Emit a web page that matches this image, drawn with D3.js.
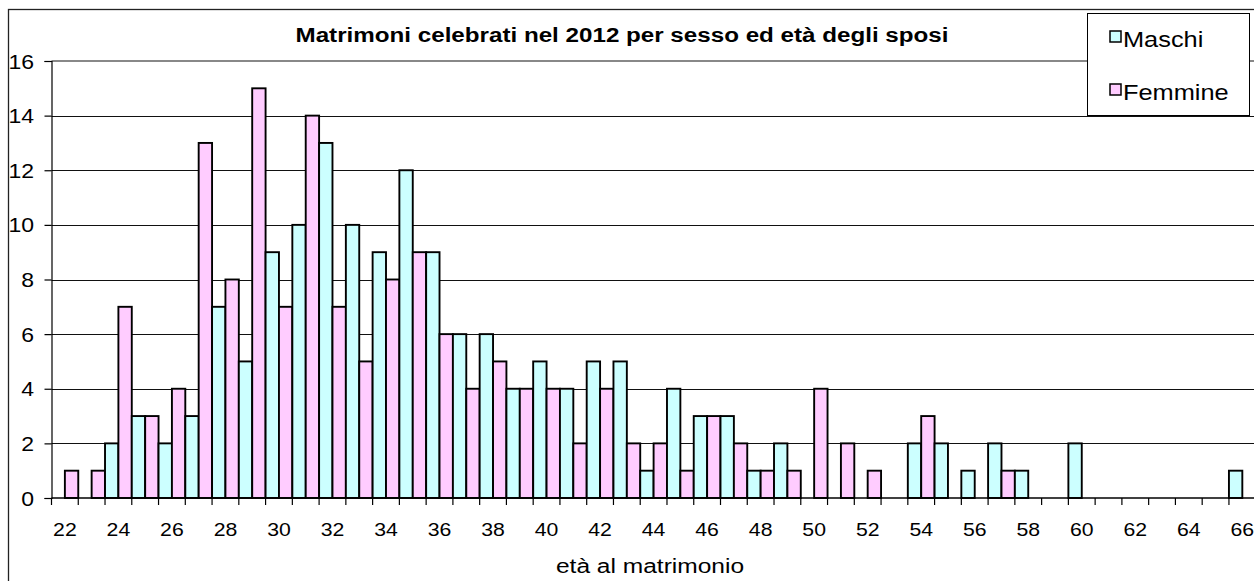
<!DOCTYPE html>
<html>
<head>
<meta charset="utf-8">
<script src="https://cdn.jsdelivr.net/npm/d3@7"></script>
<style>
    body { margin: 0; background: #fff; }
    svg { display: block; font-family: "Liberation Sans", Arial, sans-serif; }
</style>
</head>
<body>
<div id="chart"></div>
<script>
    const ages = [22, 23, 24, 25, 26, 27, 28, 29, 30, 31, 32, 33, 34, 35, 36, 37, 38, 39, 40, 41,
        42, 43, 44, 45, 46, 47, 48, 49, 50, 51, 52, 53, 54, 55, 56, 57, 58, 59, 60, 61,
        62, 63, 64, 65, 66];
    const maschi = [0, 0, 2, 3, 2, 3, 7, 5, 9, 10, 13, 10, 9, 12, 9, 6, 6, 4, 5, 4,
        5, 5, 1, 4, 3, 3, 1, 2, 0, 0, 0, 0, 2, 2, 1, 2, 1, 0, 2, 0,
        0, 0, 0, 0, 1];
    const femmine = [1, 1, 7, 3, 4, 13, 8, 15, 7, 14, 7, 5, 8, 9, 6, 4, 5, 4, 4, 2,
        4, 2, 2, 1, 3, 2, 1, 1, 4, 2, 1, 0, 3, 0, 0, 1, 0, 0, 0, 0,
        0, 0, 0, 0, 0];
    const seriesNames = ["Maschi", "Femmine"];
    const seriesColors = ["#ccffff", "#ffccff"];
    const yTicks = [0, 2, 4, 6, 8, 10, 12, 14, 16];
    const xLabels = [22, 24, 26, 28, 30, 32, 34, 36, 38, 40, 42, 44, 46, 48, 50, 52, 54, 56, 58, 60, 62, 64, 66];

    const titleText = "Matrimoni celebrati nel 2012 per sesso ed età degli sposi";
    const xTitle = "età al matrimonio";

    const W = 1254, H = 581;
    const plotLeft = 51.5, plotRight = 1255.7, plotTop = 61, plotBottom = 498;
    const sx = 1.18; // text in the picture is a bit stretched horizontally

    const svg = d3.select("#chart").append("svg")
        .attr("width", W)
        .attr("height", H);

    svg.append("rect")
        .attr("width", W).attr("height", H)
        .attr("fill", "#fff");

    // chart area border (right/bottom are off canvas)
    svg.append("rect")
        .attr("x", 8.5).attr("y", 9.5)
        .attr("width", 1300).attr("height", 650)
        .attr("fill", "none")
        .attr("stroke", "#222")
        .attr("stroke-width", 1.3);

    const x = d3.scaleBand()
        .domain(ages)
        .range([plotLeft, plotRight])
        .padding(0);

    const xInner = d3.scaleBand()
        .domain(seriesNames)
        .range([0, x.bandwidth()])
        .padding(0);

    const y = d3.scaleLinear()
        .domain([0, 16])
        .range([plotBottom, plotTop]);

    // gridlines
    svg.append("g")
        .selectAll("line")
        .data(yTicks.filter(d => d > 0 && d < 16))
        .enter()
        .append("line")
        .attr("x1", plotLeft).attr("x2", plotRight)
        .attr("y1", d => Math.round(y(d)) + 0.5)
        .attr("y2", d => Math.round(y(d)) + 0.5)
        .attr("stroke", "#111")
        .attr("stroke-width", 1);

    // plot area border top
    svg.append("line")
        .attr("x1", plotLeft).attr("x2", plotRight)
        .attr("y1", y(16)).attr("y2", y(16))
        .attr("stroke", "#888")
        .attr("stroke-width", 2);

    // bars
    const rows = ages.map((a, i) => ({age: a, values: [maschi[i], femmine[i]]}));

    const groups = svg.append("g")
        .selectAll("g")
        .data(rows)
        .enter()
        .append("g")
        .attr("transform", d => "translate(" + x(d.age) + ",0)");

    groups.selectAll("rect")
        .data(d => d.values.map((v, j) => ({name: seriesNames[j], value: v, color: seriesColors[j]})))
        .enter()
        .filter(d => d.value > 0)
        .append("rect")
        .attr("x", d => xInner(d.name))
        .attr("y", d => y(d.value))
        .attr("width", xInner.bandwidth())
        .attr("height", d => y(0) - y(d.value))
        .attr("fill", d => d.color)
        .attr("stroke", "#000")
        .attr("stroke-width", 1.9);

    // y axis
    const yAxis = svg.append("g")
        .attr("transform", "translate(" + plotLeft + ",0)")
        .call(d3.axisLeft(y).tickValues(yTicks).tickSize(7).tickFormat(d3.format("d")));
    yAxis.select(".domain").attr("stroke", "#000").attr("stroke-width", 1.2);
    yAxis.selectAll(".tick line").attr("stroke", "#000").attr("stroke-width", 1.2);
    yAxis.selectAll(".tick text").remove();
    yAxis.selectAll(".tick")
        .append("text")
        .attr("transform", "translate(-17.5,7) scale(" + sx + ",1)")
        .attr("text-anchor", "end")
        .attr("fill", "#000")
        .style("font-size", "19.5px")
        .text(d => d);

    // x axis: ticks on band edges, labels every other category
    const xAxisG = svg.append("g");
    xAxisG.append("line")
        .attr("x1", plotLeft).attr("x2", plotRight)
        .attr("y1", plotBottom).attr("y2", plotBottom)
        .attr("stroke", "#000")
        .attr("stroke-width", 1.4);
    xAxisG.selectAll(".xtick")
        .data(ages)
        .enter()
        .append("line")
        .attr("class", "xtick")
        .attr("x1", d => x(d)).attr("x2", d => x(d))
        .attr("y1", plotBottom).attr("y2", plotBottom + 7)
        .attr("stroke", "#000")
        .attr("stroke-width", 1.2);
    xAxisG.selectAll(".xlabel")
        .data(xLabels)
        .enter()
        .append("text")
        .attr("class", "xlabel")
        .attr("transform", d => "translate(" + (x(d) + x.bandwidth() / 2) + ",536) scale(" + sx + ",1)")
        .attr("text-anchor", "middle")
        .style("font-size", "18px")
        .text(d => d);

    svg.append("text")
        .attr("transform", "translate(650,573) scale(" + sx + ",1)")
        .attr("text-anchor", "middle")
        .style("font-size", "20.8px")
        .text(xTitle);

    svg.append("text")
        .attr("transform", "translate(622,42) scale(" + sx + ",1)")
        .attr("text-anchor", "middle")
        .style("font-size", "20.5px")
        .style("font-weight", "bold")
        .text(titleText);

    // legend
    const legend = svg.append("g");
    legend.append("rect")
        .attr("x", 1087.5).attr("y", 13.5)
        .attr("width", 162).attr("height", 102)
        .attr("fill", "#fff")
        .attr("stroke", "#000")
        .attr("stroke-width", 1);

    const items = legend.selectAll(".item")
        .data(seriesNames)
        .enter()
        .append("g")
        .attr("class", "item")
        .attr("transform", (d, i) => "translate(1110," + (31 + i * 53) + ")");
    items.append("rect")
        .attr("width", 11).attr("height", 11)
        .attr("fill", (d, i) => seriesColors[i])
        .attr("stroke", "#000")
        .attr("stroke-width", 1.5);
    items.append("text")
        .attr("transform", "translate(13,15.5) scale(" + sx + ",1)")
        .style("font-size", "21.5px")
        .text(d => d);
</script>
</body>
</html>
